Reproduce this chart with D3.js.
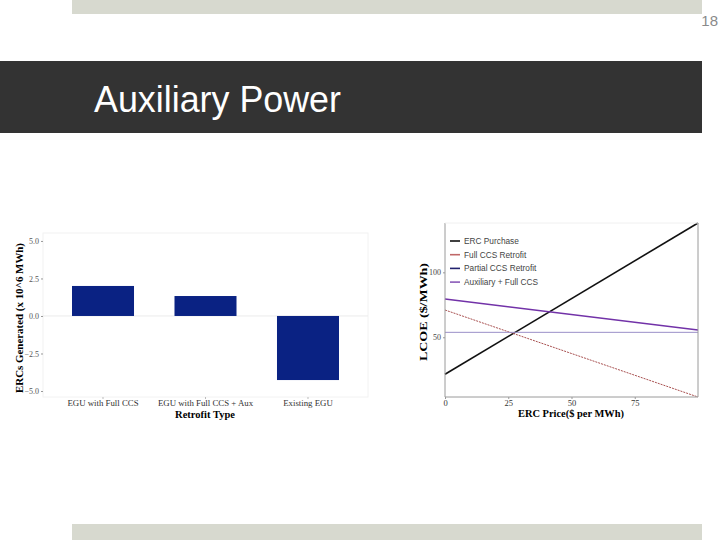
<!DOCTYPE html>
<html>
<head>
<meta charset="utf-8">
<script src="https://cdn.jsdelivr.net/npm/d3@7"></script>
<style>
  body { margin: 0; background: #fff; }
  svg { display: block; }
</style>
</head>
<body>
<svg id="slide" width="720" height="540"></svg>
<script>
// left chart: ERCs generated per retrofit type
const retrofitTypes = ['EGU with Full CCS', 'EGU with Full CCS + Aux', 'Existing EGU'];
const ercsGenerated = [2.0, 1.33, -4.27];
const ercTicks = [-5.0, -2.5, 0.0, 2.5, 5.0];

// right chart: LCOE vs ERC price
const ercPrice = [0, 100];
const ercPurchase = [21.5, 138];
const fullCcsRetrofit = [71, 4];
const partialCcsRetrofit = [53.8, 53.8];
const auxFullCcs = [79.5, 55.6];
const seriesNames = ['ERC Purchase', 'Full CCS Retrofit', 'Partial CCS Retrofit', 'Auxiliary + Full CCS'];
const priceTicks = [0, 25, 50, 75];
const lcoeTicks = [50, 100];

const svg = d3.select('#slide');
const serif = '"Liberation Serif", "DejaVu Serif", serif';
const sans = '"Liberation Sans", Arial, sans-serif';

// slide frame
svg.append('rect').attr('x', 72).attr('y', 0).attr('width', 630).attr('height', 14).attr('fill', '#d7d9cf');
svg.append('rect').attr('x', 72).attr('y', 524).attr('width', 630).attr('height', 16).attr('fill', '#d7d9cf');
svg.append('text').attr('x', 718).attr('y', 26).attr('text-anchor', 'end')
    .attr('font-family', sans).attr('font-size', 15).attr('fill', '#8a8a8a').text('18');
svg.append('rect').attr('x', 0).attr('y', 61).attr('width', 702).attr('height', 72).attr('fill', '#333333');
svg.append('text').attr('x', 94).attr('y', 112)
    .attr('font-family', sans).attr('font-size', 36).attr('fill', '#fff')
    .attr('textLength', 247).attr('lengthAdjust', 'spacingAndGlyphs')
    .text('Auxiliary Power');

// ---- bar chart ----
const bx = d3.scaleBand().domain(retrofitTypes).range([43, 368]).paddingInner(0.395).paddingOuter(0.283);
const by = d3.scaleLinear().domain([-5.4, 5.53]).range([397, 233]);

const bar = svg.append('g');
bar.append('rect').attr('x', 43).attr('y', 233).attr('width', 325).attr('height', 164)
    .attr('fill', 'none').attr('stroke', '#f2f2f2');
bar.append('line').attr('x1', 43).attr('x2', 368).attr('y1', by(0)).attr('y2', by(0))
    .attr('stroke', '#ebebeb');

bar.selectAll('.bar')
    .data(retrofitTypes.map((t, i) => ({type: t, value: ercsGenerated[i]})))
    .enter().append('rect')
    .attr('class', 'bar')
    .attr('x', d => bx(d.type))
    .attr('width', bx.bandwidth())
    .attr('y', d => by(Math.max(0, d.value)))
    .attr('height', d => Math.abs(by(d.value) - by(0)))
    .attr('fill', '#0a2283');

const byAxis = bar.append('g').attr('transform', 'translate(43,0)')
    .call(d3.axisLeft(by).tickValues(ercTicks).tickFormat(d3.format('.1f')).tickSize(2).tickPadding(2));
byAxis.select('.domain').remove();
byAxis.selectAll('line').attr('stroke', '#999');
byAxis.selectAll('text').attr('font-family', serif).attr('font-size', 8).attr('fill', '#555');

const bxAxis = bar.append('g').attr('transform', 'translate(0,397)')
    .call(d3.axisBottom(bx).tickSize(2).tickPadding(1));
bxAxis.select('.domain').remove();
bxAxis.selectAll('line').attr('stroke', '#bbb');
bxAxis.selectAll('text').attr('font-family', serif).attr('font-size', 8.8).attr('fill', '#333');

bar.append('text').attr('x', 205).attr('y', 417.5).attr('text-anchor', 'middle')
    .attr('font-family', serif).attr('font-weight', 'bold').attr('font-size', 10.5)
    .text('Retrofit Type');
bar.append('text').attr('transform', 'translate(23,318) rotate(-90)').attr('text-anchor', 'middle')
    .attr('font-family', serif).attr('font-weight', 'bold').attr('font-size', 10.5)
    .attr('textLength', 150).attr('lengthAdjust', 'spacingAndGlyphs')
    .text('ERCs Generated (x 10^6 MWh)');

// ---- line chart ----
const lx = d3.scaleLinear().domain([0, 100]).range([445, 698]);
const ly = d3.scaleLinear().domain([4, 138]).range([397, 223]);

const lc = svg.append('g');
const seriesData = [ercPurchase, fullCcsRetrofit, partialCcsRetrofit, auxFullCcs];
const seriesStyle = [
    {stroke: '#111', width: 1.6, dash: null},
    {stroke: '#a85050', width: 1, dash: '2,1'},
    {stroke: '#9a90c8', width: 1, dash: null},
    {stroke: '#7232a8', width: 1.5, dash: null}
];
const line = d3.line().x(d => lx(d[0])).y(d => ly(d[1]));

seriesData.forEach((vals, i) => {
    lc.append('path')
        .datum(ercPrice.map((p, j) => [p, vals[j]]))
        .attr('d', line)
        .attr('fill', 'none')
        .attr('stroke', seriesStyle[i].stroke)
        .attr('stroke-width', seriesStyle[i].width)
        .attr('stroke-dasharray', seriesStyle[i].dash);
});

// panel border
lc.append('line').attr('x1', 445).attr('x2', 445).attr('y1', 223).attr('y2', 397).attr('stroke', '#9a9a9a');
lc.append('line').attr('x1', 698).attr('x2', 698).attr('y1', 223).attr('y2', 397).attr('stroke', '#9a9a9a');
lc.append('line').attr('x1', 445).attr('x2', 698).attr('y1', 397).attr('y2', 397).attr('stroke', '#9a9a9a');
lc.append('line').attr('x1', 445).attr('x2', 698).attr('y1', 223).attr('y2', 223).attr('stroke', '#f0f0f0');

const lyAxis = lc.append('g').attr('transform', 'translate(445,0)')
    .call(d3.axisLeft(ly).tickValues(lcoeTicks).tickSize(2).tickPadding(2));
lyAxis.select('.domain').remove();
lyAxis.selectAll('line').attr('stroke', '#999');
lyAxis.selectAll('text').attr('font-family', serif).attr('font-size', 8).attr('fill', '#444');

const lxAxis = lc.append('g').attr('transform', 'translate(0,397)')
    .call(d3.axisBottom(lx).tickValues(priceTicks).tickSize(2).tickPadding(1));
lxAxis.select('.domain').remove();
lxAxis.selectAll('line').attr('stroke', '#999');
lxAxis.selectAll('text').attr('font-family', serif).attr('font-size', 8.5).attr('fill', '#333');

lc.append('text').attr('x', 571).attr('y', 416.5).attr('text-anchor', 'middle')
    .attr('font-family', serif).attr('font-weight', 'bold').attr('font-size', 10.5)
    .attr('textLength', 106).attr('lengthAdjust', 'spacingAndGlyphs')
    .text('ERC Price($ per MWh)');
lc.append('text').attr('transform', 'translate(427,312) rotate(-90)').attr('text-anchor', 'middle')
    .attr('font-family', serif).attr('font-weight', 'bold').attr('font-size', 11)
    .attr('textLength', 98).attr('lengthAdjust', 'spacingAndGlyphs')
    .text('LCOE ($/MWh)');

// legend
const legendColors = ['#111', '#c06868', '#22226e', '#8a5ab8'];
const legend = lc.append('g').attr('transform', 'translate(450,241)');
seriesNames.forEach((name, i) => {
    const row = legend.append('g').attr('transform', `translate(0,${i * 13.7})`);
    row.append('line').attr('x1', 0).attr('x2', 10).attr('y1', 0).attr('y2', 0)
        .attr('stroke', legendColors[i]).attr('stroke-width', 1.6);
    row.append('text').attr('x', 14).attr('y', 3)
        .attr('font-family', sans).attr('font-size', 8.3).attr('fill', '#444')
        .text(name);
});
</script>
</body>
</html>
